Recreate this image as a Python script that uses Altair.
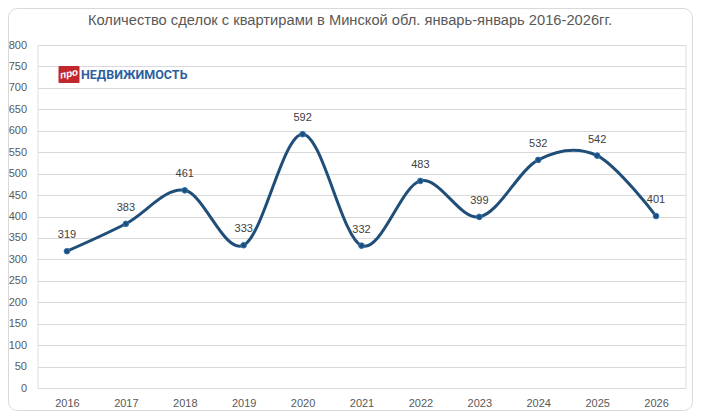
import altair as alt
import pandas as pd

years = ["2016", "2017", "2018", "2019", "2020", "2021", "2022", "2023", "2024", "2025", "2026"]
deals = [319, 383, 461, 333, 592, 332, 483, 399, 532, 542, 401]

title_text = "Количество сделок с квартирами в Минской обл. январь-январь 2016-2026гг."
logo_badge = "про"
logo_word = "НЕДВИЖИМОСТЬ"

df = pd.DataFrame({"year": years, "deals": deals})

FONT = "Liberation Sans"
LINE = "#1f4e79"

x_enc = alt.X(
    "year:O",
    scale=alt.Scale(type="point", padding=0.5),
    sort=years,
    axis=alt.Axis(
        title=None, labelAngle=0, domain=False, ticks=False, grid=False,
        labelPadding=9, labelFontSize=11, labelColor="#595959", labelFont=FONT,
    ),
)
y_enc = alt.Y(
    "deals:Q",
    scale=alt.Scale(domain=[0, 800], nice=False),
    axis=alt.Axis(
        title=None, values=list(range(0, 801, 50)), domain=False, ticks=False,
        grid=True, gridColor="#d9d9d9", gridWidth=1,
        labelPadding=11, labelFontSize=11, labelColor="#595959", labelFont=FONT,
    ),
)

base = alt.Chart(df)

line = base.mark_line(interpolate="cardinal", tension=0, strokeWidth=3, color=LINE).encode(
    x=x_enc, y=y_enc
)
points = base.mark_point(filled=True, size=32, fill=LINE, stroke="#2e75b6", strokeWidth=1, opacity=1).encode(
    x=x_enc, y=y_enc
)
labels = base.mark_text(dy=-16, fontSize=11, color="#404040", font=FONT).encode(
    x=x_enc, y=y_enc, text="deals:Q"
)

one = pd.DataFrame({"t": [title_text], "b": [logo_badge], "w": [logo_word]})

border = alt.Chart(one).mark_rect(
    fill=None, stroke="#d9d9d9", strokeWidth=1, cornerRadius=9
).encode(x=alt.value(-29), x2=alt.value(655), y=alt.value(-36.5), y2=alt.value(365.5))

title = alt.Chart(one).mark_text(
    fontSize=14.7, color="#595959", font=FONT, align="center", baseline="middle"
).encode(x=alt.value(312.5), y=alt.value(-24), text="t:N")

badge = alt.Chart(one).mark_rect(
    fill="#c0282d", cornerRadius=1
).encode(x=alt.value(21), x2=alt.value(42), y=alt.value(21), y2=alt.value(38))

badge_text = alt.Chart(one).mark_text(
    color="white", fontSize=10, fontWeight="bold", fontStyle="italic", font=FONT,
    angle=348, align="center", baseline="middle",
).encode(x=alt.value(31.5), y=alt.value(29), text="b:N")

word = alt.Chart(one).mark_text(
    color="#2e5f9e", fontSize=12.5, fontWeight="bold", font="Roboto",
    align="left", baseline="middle",
).encode(x=alt.value(43.5), y=alt.value(29.5), text="w:N")

chart = alt.layer(border, title, line, points, labels, badge, badge_text, word).properties(
    width=648,
    height=343,
    padding={"left": 29.5, "top": 37, "right": 7.5, "bottom": 23},
    autosize=alt.AutoSizeParams(type="none"),
).configure_view(stroke=None).configure(background="white")

chart.save("out.html", embed_options={"renderer": "svg", "actions": False})
